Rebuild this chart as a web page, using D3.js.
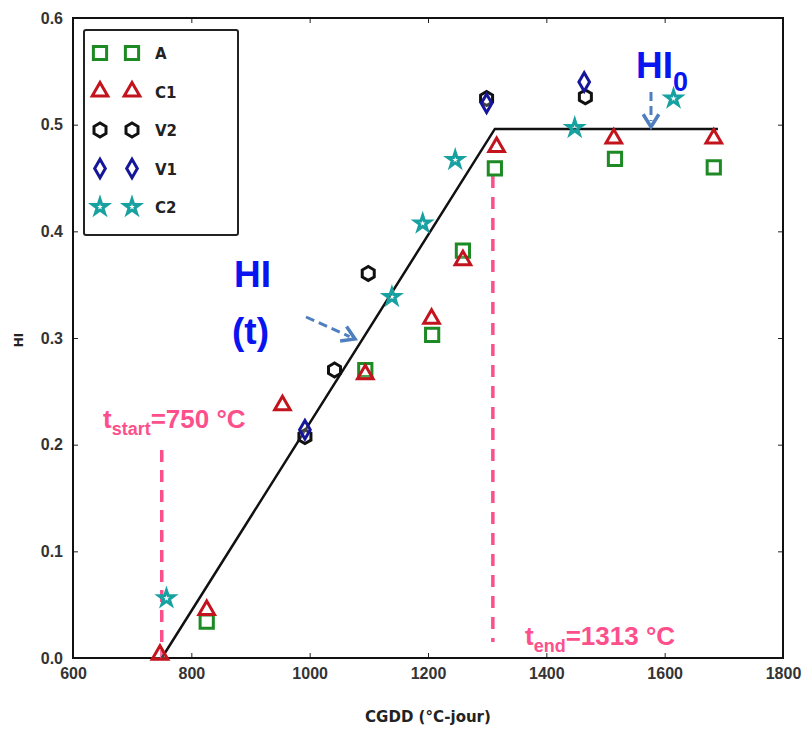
<!DOCTYPE html>
<meta charset="utf-8">
<script src="https://d3js.org/d3.v7.min.js"></script>
<style>
  body { margin: 0; background: #fff; }
  svg { font-family: 'DejaVu Sans', sans-serif; }
  .tick text { font-size: 16px; font-weight: bold; fill: #333; }
  .note { font-family: 'Liberation Sans', Arial, sans-serif; font-weight: bold; }
</style>
<body>
<div id="chart"></div>
<script>

// data
var seriesNames = ["A", "C1", "V2", "V1", "C2"];
var seriesColors = ["#1d8a24", "#c3141e", "#111111", "#16169a", "#17a1a1"];

var A_x  = [826, 1094, 1207, 1259, 1313, 1516, 1683];
var A_y  = [0.034, 0.270, 0.303, 0.382, 0.459, 0.468, 0.460];
var C1_x = [747, 826, 954, 1094, 1206, 1259, 1316, 1514, 1683];
var C1_y = [0.003, 0.045, 0.237, 0.266, 0.318, 0.373, 0.479, 0.487, 0.487];
var V2_x = [992, 1042, 1099, 1299, 1466];
var V2_y = [0.2075, 0.270, 0.3605, 0.5245, 0.526];
var V1_x = [992, 1299, 1464];
var V1_y = [0.214, 0.520, 0.540];
var C2_x = [758, 1139, 1191, 1246, 1448, 1615];
var C2_y = [0.056, 0.3386, 0.4074, 0.467, 0.497, 0.5245];

// fitted HI(t) model
var model_x = [750, 1313, 1690];
var model_y = [0, 0.496, 0.496];
var tStart = 750, tEnd = 1313;

var xTicks = [600, 800, 1000, 1200, 1400, 1600, 1800];
var yTicks = [0.0, 0.1, 0.2, 0.3, 0.4, 0.5, 0.6];

var W = 810, H = 734;
var margin = {top: 18, right: 27, bottom: 76, left: 73},
    width = W - margin.left - margin.right,
    height = H - margin.top - margin.bottom;

var svg = d3.select("#chart").append("svg")
    .attr("width", W).attr("height", H)
  .append("g")
    .attr("transform", "translate(" + margin.left + "," + margin.top + ")");

var x = d3.scaleLinear().domain([600, 1800]).range([0, width]);
var y = d3.scaleLinear().domain([0, 0.6]).range([height, 0]);

var pink = "#fd4f8c", blue = "#0a14f0", arrowBlue = "#4f7fbf";

// axes (inward ticks like matplotlib)
svg.append("g").attr("transform", "translate(0," + height + ")")
  .call(d3.axisBottom(x).tickValues(xTicks).tickFormat(d3.format("d")).tickSizeInner(-5).tickSizeOuter(0).tickPadding(10))
  .call(function(g) { g.select(".domain").remove(); });
svg.append("g")
  .call(d3.axisLeft(y).tickValues(yTicks).tickFormat(d3.format(".1f")).tickSizeInner(-5).tickSizeOuter(0).tickPadding(10))
  .call(function(g) { g.select(".domain").remove(); });
svg.append("g")
  .call(d3.axisTop(x).tickValues(xTicks).tickFormat("").tickSizeInner(-5).tickSizeOuter(0))
  .call(function(g) { g.select(".domain").remove(); });
svg.append("g").attr("transform", "translate(" + width + ",0)")
  .call(d3.axisRight(y).tickValues(yTicks).tickFormat("").tickSizeInner(-5).tickSizeOuter(0))
  .call(function(g) { g.select(".domain").remove(); });
svg.selectAll(".tick line").attr("stroke", "#222");

svg.append("rect").attr("width", width).attr("height", height)
  .attr("fill", "none").attr("stroke", "#111").attr("stroke-width", 2);

// axis titles
svg.append("text").attr("x", width / 2).attr("y", height + 64)
  .attr("text-anchor", "middle").style("font-size", "15px").style("font-weight", "bold").attr("fill", "#222")
  .text("CGDD (°C-jour)");
svg.append("text").attr("transform", "translate(" + (-50) + "," + (height / 2 + 2) + ") rotate(-90)")
  .attr("text-anchor", "middle").style("font-size", "12px").style("font-weight", "bold").attr("fill", "#222")
  .text("HI");

// pink dashed markers for t_start and t_end
svg.append("line").attr("x1", x(tStart)).attr("x2", x(tStart))
  .attr("y1", 432).attr("y2", y(0))
  .attr("stroke", pink).attr("stroke-width", 3.5).attr("stroke-dasharray", "12,8");
svg.append("line").attr("x1", x(tEnd) - 2).attr("x2", x(tEnd) - 2)
  .attr("y1", 158).attr("y2", 624)
  .attr("stroke", pink).attr("stroke-width", 3.5).attr("stroke-dasharray", "12,9");

// model line
var model = model_x.map(function(d, i) { return [d, model_y[i]]; });
svg.append("path").datum(model)
  .attr("fill", "none").attr("stroke", "#111").attr("stroke-width", 2.5)
  .attr("d", d3.line().x(function(d) { return x(d[0]); }).y(function(d) { return y(d[1]); }));

// marker shapes
var hexagon = {
  draw: function(ctx, size) {
    var r = Math.sqrt(size / 2.6);
    for (var i = 0; i < 6; i++) {
      var a = Math.PI / 6 + i * Math.PI / 3;
      var px = r * Math.cos(a), py = r * Math.sin(a);
      if (i === 0) ctx.moveTo(px, py); else ctx.lineTo(px, py);
    }
    ctx.closePath();
  }
};
var diamond = {
  draw: function(ctx, size) {
    var r = Math.sqrt(size) * 0.75;
    ctx.moveTo(0, -r); ctx.lineTo(r * 0.58, 0); ctx.lineTo(0, r); ctx.lineTo(-r * 0.58, 0);
    ctx.closePath();
  }
};
var shapes = [
  d3.symbol().type(d3.symbolSquare).size(175),
  d3.symbol().type(d3.symbolTriangle).size(105),
  d3.symbol().type(hexagon).size(125),
  d3.symbol().type(diamond).size(150),
  d3.symbol().type(d3.symbolStar).size(70)
];

var allX = [A_x, C1_x, V2_x, V1_x, C2_x];
var allY = [A_y, C1_y, V2_y, V1_y, C2_y];

seriesNames.forEach(function(name, s) {
  var pts = allX[s].map(function(d, i) { return [d, allY[s][i]]; });
  svg.append("g").selectAll("path").data(pts).enter().append("path")
    .attr("d", shapes[s])
    .attr("transform", function(d) { return "translate(" + x(d[0]) + "," + y(d[1]) + ")"; })
    .attr("fill", "#fff").attr("fill-opacity", 0.2)
    .attr("stroke", seriesColors[s]).attr("stroke-width", 3);
});

// legend (two markers per entry)
var lg = svg.append("g").attr("transform", "translate(11,12)");
lg.append("rect").attr("width", 154).attr("height", 205).attr("rx", 2)
  .attr("fill", "#fff").attr("stroke", "#222").attr("stroke-width", 2);
seriesNames.forEach(function(name, s) {
  var cy = 23 + s * 38.5;
  [16, 48].forEach(function(cx) {
    lg.append("path").attr("d", shapes[s]).attr("transform", "translate(" + cx + "," + cy + ")")
      .attr("fill", "#fff").attr("stroke", seriesColors[s]).attr("stroke-width", 3);
  });
  lg.append("text").attr("x", 71).attr("y", cy + 6)
    .style("font-size", "15px").style("font-weight", "bold").attr("fill", "#222").text(name);
});

// annotations
var sv = d3.select("svg");
var t1 = sv.append("text").attr("class", "note").attr("x", 103).attr("y", 428)
  .attr("fill", pink).style("font-size", "26px");
t1.append("tspan").text("t");
t1.append("tspan").attr("dy", 7).style("font-size", "18px").text("start");
t1.append("tspan").attr("dy", -7).text("=750 °C");

var t2 = sv.append("text").attr("class", "note").attr("x", 525).attr("y", 645)
  .attr("fill", pink).style("font-size", "26px");
t2.append("tspan").text("t");
t2.append("tspan").attr("dy", 7).style("font-size", "18px").text("end");
t2.append("tspan").attr("dy", -7).text("=1313 °C");

sv.append("text").attr("class", "note").attr("x", 234).attr("y", 287)
  .attr("fill", blue).style("font-size", "37px").text("HI");
sv.append("text").attr("class", "note").attr("x", 232).attr("y", 344)
  .attr("fill", blue).style("font-size", "37px").text("(t)");

var h0 = sv.append("text").attr("class", "note").attr("x", 636).attr("y", 78)
  .attr("fill", blue).style("font-size", "37px");
h0.append("tspan").text("HI");
h0.append("tspan").attr("dy", 13).style("font-size", "27px").text("0");

// dashed arrows pointing at the model
function arrow(x1, y1, x2, y2) {
  var ang = Math.atan2(y2 - y1, x2 - x1), L = 15, spread = 0.55;
  sv.append("line").attr("x1", x1).attr("y1", y1)
    .attr("x2", x2 - 6 * Math.cos(ang)).attr("y2", y2 - 6 * Math.sin(ang))
    .attr("stroke", arrowBlue).attr("stroke-width", 3).attr("stroke-dasharray", "9,5");
  sv.append("path")
    .attr("d", "M" + (x2 - L * Math.cos(ang - spread)) + "," + (y2 - L * Math.sin(ang - spread)) +
               "L" + x2 + "," + y2 +
               "L" + (x2 - L * Math.cos(ang + spread)) + "," + (y2 - L * Math.sin(ang + spread)))
    .attr("fill", "none").attr("stroke", arrowBlue).attr("stroke-width", 3.5);
}
arrow(306, 317, 355, 339);
arrow(651, 92, 651, 127);

</script>
</body>
